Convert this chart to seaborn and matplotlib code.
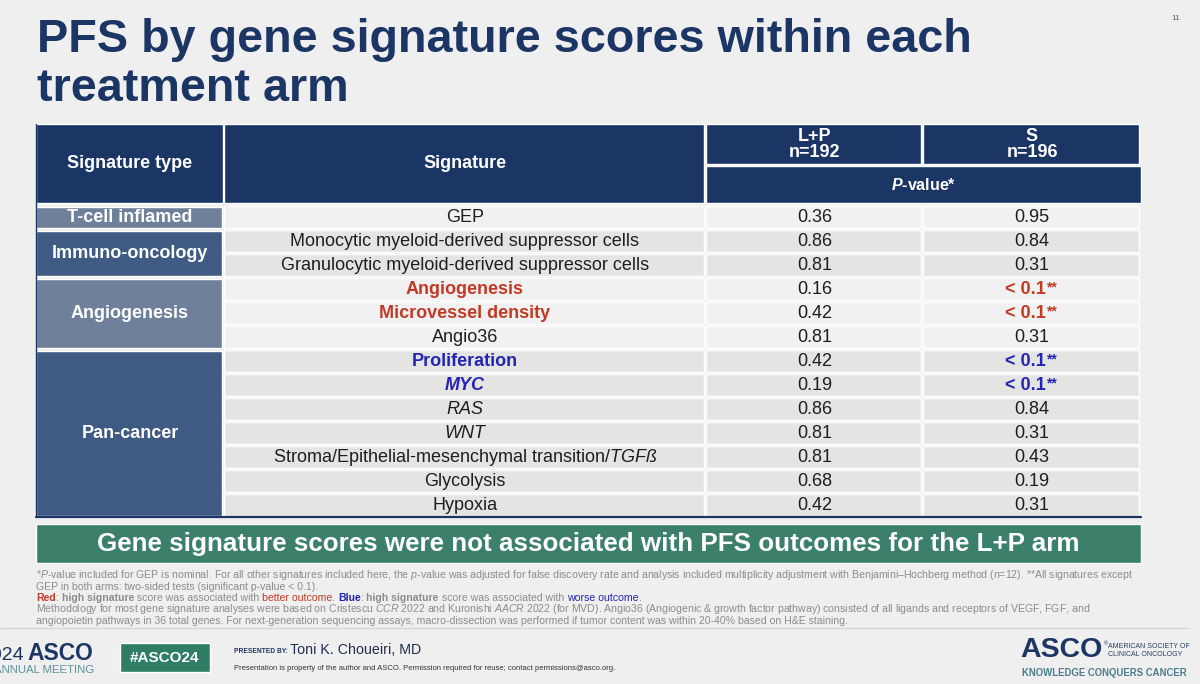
import matplotlib
matplotlib.use("Agg")
import matplotlib.pyplot as plt
import seaborn as sns

# ==============================
# DATA
# ==============================

signature_types = ["T-cell inflamed", "Immuno-oncology", "Angiogenesis", "Pan-cancer"]
type_sizes = [1, 2, 3, 7]

signatures = [
    "GEP",
    "Monocytic myeloid-derived suppressor cells",
    "Granulocytic myeloid-derived suppressor cells",
    "Angiogenesis",
    "Microvessel density",
    "Angio36",
    "Proliferation",
    "MYC",
    "RAS",
    "WNT",
    "Stroma/Epithelial-mesenchymal transition/$\\mathit{TGFß}$",
    "Glycolysis",
    "Hypoxia",
]
italic_names = ["MYC", "RAS", "WNT"]

# p-values; None means "< 0.1**"
lp_pvalues = [0.36, 0.86, 0.81, 0.16, 0.42, 0.81, 0.42, 0.19, 0.86, 0.81, 0.81, 0.68, 0.42]
s_pvalues = [0.95, 0.84, 0.31, None, None, 0.31, None, None, 0.84, 0.31, 0.43, 0.19, 0.31]

# 1 = high score -> better outcome (red), -1 = worse outcome (blue)
direction = [0, 0, 0, 1, 1, 0, -1, -1, 0, 0, 0, 0, 0]

arms = ["L+P", "S"]
arm_n = [192, 196]

# ==============================
# STYLE
# ==============================

sns.set_theme(style="white")
plt.rcParams["font.family"] = ["Liberation Sans", "DejaVu Sans"]
plt.rcParams["mathtext.fontset"] = "custom"
plt.rcParams["mathtext.rm"] = "Liberation Sans"
plt.rcParams["mathtext.it"] = "Liberation Sans:italic"
plt.rcParams["mathtext.bf"] = "Liberation Sans:bold:italic"

BG = "#efefef"
NAVY = "#1b3564"
TYPE_LIGHT = "#6f809b"
TYPE_DARK = "#405b83"
ROW_LIGHT = "#f1f1f1"
ROW_DARK = "#e4e5e3"
RED = "#c23a26"
BLUE = "#2424b4"
GREEN = "#3c7f6b"
FOOT = "#8c8c8c"
TXT = "#1e1e1e"

# layout (pixels)
x_cols = [36, 224, 706, 923, 1141]
head_top, head_mid, head_bot = 124, 165, 203
body_top, row_h = 205, 24

fig = plt.figure(figsize=(12, 6.84), dpi=100, facecolor=BG)
ax = fig.add_axes([0, 0, 1, 1])
ax.set_xlim(0, 1200)
ax.set_ylim(684, 0)
ax.axis("off")

# ==============================
# TITLE
# ==============================

ax.text(37, 52, "PFS by gene signature scores within each", fontsize=33.7,
        fontweight="bold", color=NAVY, va="baseline")
ax.text(37, 101, "treatment arm", fontsize=33.7, fontweight="bold", color=NAVY, va="baseline")
ax.text(1176, 20, "11", fontsize=6, color="#666666", ha="center", va="baseline")

# ==============================
# HEADER
# ==============================

g = 2
ax.barh((head_top + head_bot) / 2, x_cols[1] - x_cols[0] - 1, left=x_cols[0],
        height=head_bot - head_top, color=NAVY)
ax.barh((head_top + head_bot) / 2, x_cols[2] - x_cols[1] - g, left=x_cols[1],
        height=head_bot - head_top, color=NAVY)
for i in range(2):
    ax.barh((head_top + head_mid) / 2 - 0.5, x_cols[3 + i] - x_cols[2 + i] - g,
            left=x_cols[2 + i], height=head_mid - head_top - 1, color=NAVY)
    xc = (x_cols[2 + i] + x_cols[3 + i]) / 2
    ax.text(xc, 144.5, f"{arms[i]}\nn={arm_n[i]}", fontsize=13, fontweight="bold",
            color="white", ha="center", va="center", linespacing=0.98)
ax.barh((head_mid + head_bot) / 2 + 0.5, x_cols[4] - x_cols[2], left=x_cols[2],
        height=head_bot - head_mid - 1, color=NAVY)

ax.text((x_cols[0] + x_cols[1]) / 2, 164, "Signature type", fontsize=13,
        fontweight="bold", color="white", ha="center", va="center")
ax.text((x_cols[1] + x_cols[2]) / 2, 164, "Signature", fontsize=13,
        fontweight="bold", color="white", ha="center", va="center")
ax.text((x_cols[2] + x_cols[4]) / 2, 185, "$\\mathbf{P}$-value*", fontsize=11.5,
        fontweight="bold", color="white", ha="center", va="center")

# ==============================
# BODY
# ==============================

row_group = []
for gi, n in enumerate(type_sizes):
    row_group += [gi] * n

for r, name in enumerate(signatures):
    yc = body_top + r * row_h + row_h / 2
    shade = ROW_DARK if row_group[r] % 2 else ROW_LIGHT
    for c in range(1, 4):
        ax.barh(yc, x_cols[c + 1] - x_cols[c] - 2, left=x_cols[c],
                height=row_h - 1.5, color=shade)

    color = TXT
    weight = "normal"
    if direction[r] == 1:
        color, weight = RED, "bold"
    elif direction[r] == -1:
        color, weight = BLUE, "bold"
    style = "italic" if name in italic_names else "normal"
    ax.text((x_cols[1] + x_cols[2]) / 2, yc, name, fontsize=13, color=color,
            fontweight=weight, fontstyle=style, ha="center", va="center")

    xc_lp = (x_cols[2] + x_cols[3]) / 2
    ax.text(xc_lp, yc, f"{lp_pvalues[r]:.2f}", fontsize=13, color=TXT,
            ha="center", va="center")

    xc_s = (x_cols[3] + x_cols[4]) / 2
    if s_pvalues[r] is None:
        ax.text(xc_s + 14, yc + 0.5, "< 0.1", fontsize=13, color=color,
                fontweight="bold", ha="right", va="center")
        ax.text(xc_s + 14, yc - 2, "**", fontsize=10, color=color,
                fontweight="bold", ha="left", va="center")
    else:
        ax.text(xc_s, yc, f"{s_pvalues[r]:.2f}", fontsize=13, color=TXT,
                ha="center", va="center")

# signature type cells
start = 0
for gi, (label, n) in enumerate(zip(signature_types, type_sizes)):
    top = body_top + start * row_h
    yc = top + n * row_h / 2
    ax.barh(yc, x_cols[1] - x_cols[0] - 2, left=x_cols[0], height=n * row_h - 3,
            color=TYPE_DARK if gi % 2 else TYPE_LIGHT)
    ax.text((x_cols[0] + x_cols[1]) / 2, yc, label, fontsize=13, fontweight="bold",
            color="white", ha="center", va="center")
    start += n

body_bot = body_top + len(signatures) * row_h
ax.plot([x_cols[0], x_cols[4]], [body_bot, body_bot], color=NAVY, lw=1.6)
ax.plot([x_cols[0] - 0.5, x_cols[0] - 0.5], [head_top, body_bot], color=NAVY, lw=1)

# ==============================
# BANNER
# ==============================

ax.barh(543, x_cols[4] - x_cols[0], left=x_cols[0], height=39, color=GREEN)
ax.text((x_cols[0] + x_cols[4]) / 2, 544,
        "Gene signature scores were not associated with PFS outcomes for the L+P arm",
        fontsize=18.7, fontweight="bold", color="white", ha="center", va="center")

# ==============================
# FOOTNOTES
# ==============================

fs = 7.58
ax.text(36, 578, "*$\\mathit{P}$-value included for GEP is nominal. For all other signatures "
        "included here, the $\\mathit{p}$-value was adjusted for false discovery rate and "
        "analysis included multiplicity adjustment with Benjamini\u2013Hochberg method (n=12). "
        "**All signatures except", fontsize=fs, color=FOOT, va="baseline")
ax.text(36, 589.5, "GEP in both arms: two-sided tests (significant p-value < 0.1).",
        fontsize=fs, color=FOOT, va="baseline")

pieces = [
    ("Red", RED, "bold"), (": ", FOOT, "normal"), ("high signature", FOOT, "bold"),
    (" score was associated with ", FOOT, "normal"), ("better outcome", RED, "normal"),
    (". ", FOOT, "normal"), ("Blue", BLUE, "bold"), (": ", FOOT, "normal"),
    ("high signature", FOOT, "bold"), (" score was associated with ", FOOT, "normal"),
    ("worse outcome", BLUE, "normal"), (".", FOOT, "normal"),
]
t = None
for s, col, w in pieces:
    if t is None:
        t = ax.text(36, 601, s, fontsize=fs, color=col, fontweight=w, va="baseline")
    else:
        t = ax.annotate(s, xy=(1, 0), xycoords=t, va="bottom", fontsize=fs,
                        color=col, fontweight=w)

ax.text(36, 612.5, "Methodology for most gene signature analyses were based on Cristescu "
        "$\\mathit{CCR}$ 2022 and Kuronishi $\\mathit{AACR}$ 2022 (for MVD). Angio36 "
        "(Angiogenic & growth factor pathway) consisted of all ligands and receptors of "
        "VEGF, FGF, and", fontsize=fs, color=FOOT, va="baseline")
ax.text(36, 623.5, "angiopoietin pathways in 36 total genes. For next-generation sequencing "
        "assays, macro-dissection was performed if tumor content was within 20-40% based "
        "on H&E staining.", fontsize=fs, color=FOOT, va="baseline")

# ==============================
# FOOTER
# ==============================

ax.plot([0, 1188], [628, 628], color="#d6d6d6", lw=1)

ax.text(24, 660, "2024", fontsize=14, color=NAVY, ha="right", va="baseline")
ax.text(27, 660, "ASCO", fontsize=16.5, fontweight="bold", color=NAVY, va="baseline")
ax.text(94, 673, "ANNUAL MEETING", fontsize=8.2, color="#5f8f98", ha="right", va="baseline")

ax.barh(657.5, 90, left=120, height=29, color="#2f7d65")
ax.text(165, 658, "#ASCO24", fontsize=11, fontweight="bold", color="white",
        ha="center", va="center")

ax.text(234, 653, "PRESENTED BY:", fontsize=4.8, fontweight="bold", color=NAVY, va="baseline")
ax.text(290, 654, "Toni K. Choueiri, MD", fontsize=10.3, color="#1e2e4e", va="baseline")
ax.text(234, 670, "Presentation is property of the author and ASCO. Permission required "
        "for reuse; contact permissions@asco.org.", fontsize=5.5, color="#333333",
        va="baseline")

ax.text(1020, 657, "ASCO", fontsize=20.5, fontweight="bold", color=NAVY, va="baseline")
ax.text(1104, 645, "\u00ae", fontsize=4, color=NAVY, va="baseline")
ax.text(1108, 647.5, "AMERICAN SOCIETY OF", fontsize=5.0, color="#2a3d63", va="baseline")
ax.text(1108, 655.5, "CLINICAL ONCOLOGY", fontsize=5.0, color="#2a3d63", va="baseline")
ax.text(1022, 675.5, "KNOWLEDGE CONQUERS CANCER", fontsize=6.9, fontweight="bold",
        color="#4c7d8c", va="baseline")

plt.savefig("out.png", dpi=100, facecolor=BG)
